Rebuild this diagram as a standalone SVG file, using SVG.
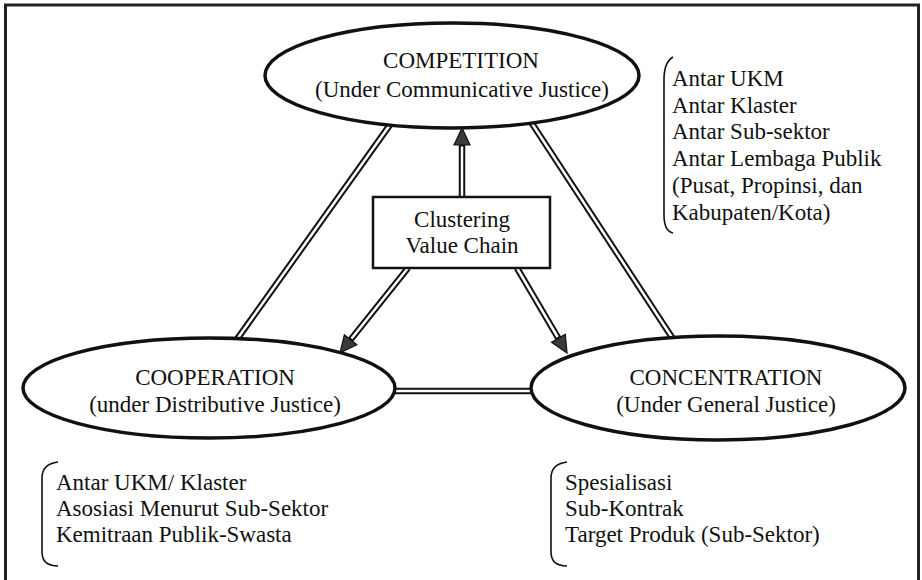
<svg xmlns="http://www.w3.org/2000/svg" width="922" height="580" viewBox="0 0 922 580">
<style>
text{font-family:"Liberation Serif","Times New Roman",serif;font-size:23px;fill:#111;}
.c{text-anchor:middle;}
.node{fill:#fff;stroke:#111;stroke-width:3.5;}
.box{fill:#fff;stroke:#111;stroke-width:2.5;}
.dbl{stroke:#111;stroke-width:6.5;fill:none;}
.gap{stroke:#fff;stroke-width:2.5;fill:none;}
.br{fill:none;stroke:#111;stroke-width:1.6;}
.frame{fill:none;stroke:#222;stroke-width:3;}
</style>
<defs>
<marker id="ah" markerUnits="userSpaceOnUse" markerWidth="20" markerHeight="20" refX="0" refY="9" orient="auto" viewBox="-1 0 20 18">
<path d="M0,1 L17,9 L0,17 z" fill="#3a3a3a" stroke="#111" stroke-width="1.2"/>
</marker>
</defs>
<rect width="922" height="580" fill="#fff"/>
<path class="frame" d="M5.5,580 L5.5,5 L918.5,5 L918.5,580"/>
<g id="connectors">
<line class="dbl" x1="392" y1="122" x2="235" y2="342"/>
<line class="gap" x1="392" y1="122" x2="235" y2="342"/>
<line class="dbl" x1="531" y1="122" x2="675" y2="342"/>
<line class="gap" x1="531" y1="122" x2="675" y2="342"/>
<line class="dbl" x1="390" y1="391" x2="540" y2="391"/>
<line class="gap" x1="390" y1="391" x2="540" y2="391"/>
<line class="dbl" x1="462" y1="197" x2="462" y2="145" marker-end="url(#ah)"/>
<line class="gap" x1="462" y1="197" x2="462" y2="146.5"/>
<line class="dbl" x1="408" y1="268" x2="350.6" y2="339.7" marker-end="url(#ah)"/>
<line class="gap" x1="408" y1="268" x2="351.6" y2="338.5"/>
<line class="dbl" x1="517" y1="268" x2="558.4" y2="338.3" marker-end="url(#ah)"/>
<line class="gap" x1="517" y1="268" x2="557.6" y2="337"/>
</g>
<g id="competition">
<ellipse class="node" cx="452" cy="75.5" rx="187" ry="52.5"/>
<text class="c" x="461" y="68">COMPETITION</text>
<text class="c" x="462" y="97">(Under Communicative Justice)</text>
</g>
<g id="cooperation">
<ellipse class="node" cx="209" cy="388" rx="186" ry="50"/>
<text class="c" x="215" y="385">COOPERATION</text>
<text class="c" x="215" y="412">(under Distributive Justice)</text>
</g>
<g id="concentration">
<ellipse class="node" cx="718" cy="388" rx="187" ry="52"/>
<text class="c" x="726" y="385">CONCENTRATION</text>
<text class="c" x="726" y="412">(Under General Justice)</text>
</g>
<g id="clustering">
<rect class="box" x="373" y="197" width="177" height="71"/>
<text class="c" x="462" y="227">Clustering</text>
<text class="c" x="462" y="253">Value Chain</text>
</g>
<g id="competition-notes">
<path class="br" d="M673,57 Q664,62 664,80 L664,215 Q664,231 673,233"/>
<text x="672" y="85.7">Antar UKM</text>
<text x="672" y="112.5">Antar Klaster</text>
<text x="672" y="139.3">Antar Sub-sektor</text>
<text x="672" y="166.1">Antar Lembaga Publik</text>
<text x="672" y="192.9">(Pusat, Propinsi, dan</text>
<text x="672" y="219.7">Kabupaten/Kota)</text>
</g>
<g id="cooperation-notes">
<path class="br" d="M58,462 Q42,464 42,478 L42,552 Q42,566 58,566"/>
<text x="56" y="490">Antar UKM/ Klaster</text>
<text x="56" y="516">Asosiasi Menurut Sub-Sektor</text>
<text x="56" y="542">Kemitraan Publik-Swasta</text>
</g>
<g id="concentration-notes">
<path class="br" d="M567,462 Q551,464 551,478 L551,552 Q551,566 567,566"/>
<text x="565" y="490">Spesialisasi</text>
<text x="565" y="516">Sub-Kontrak</text>
<text x="565" y="542">Target Produk (Sub-Sektor)</text>
</g>
</svg>
